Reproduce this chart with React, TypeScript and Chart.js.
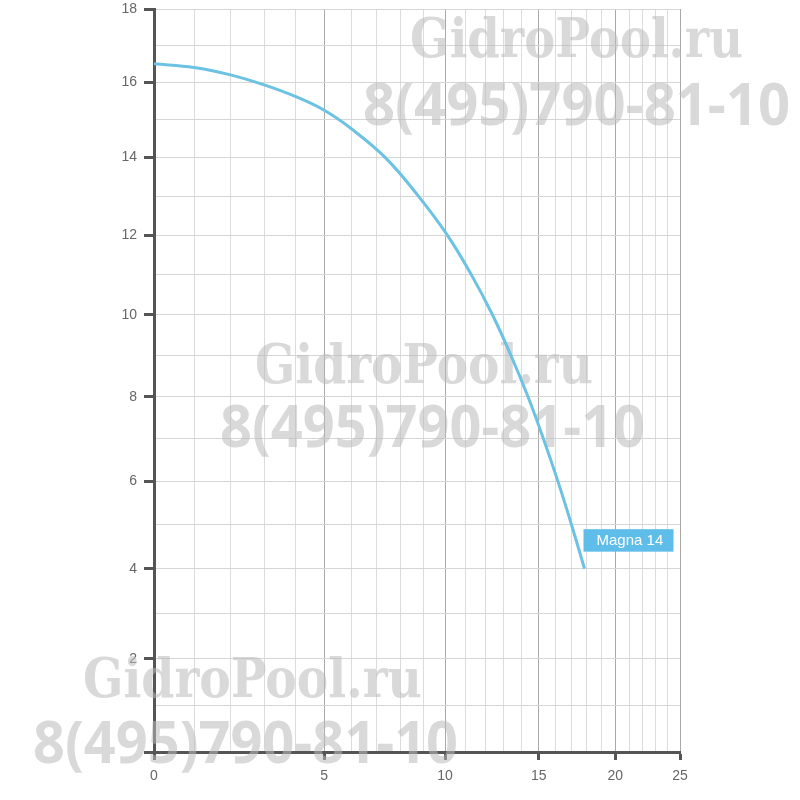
import { Chart, LinearScale, LineController, LineElement, PointElement } from "chart.js";
import { useEffect, useRef } from "react";

// pump curve (Q in m3/h, H in m)
const flowRates = [0, 1, 2, 3, 4, 5, 6, 7.35, 8.77, 10.11, 11.29, 12.39, 13.4, 14.37, 15.28, 16.17, 17.03, 17.88];
const heads = [16.5, 16.4, 16.2, 15.93, 15.62, 15.25, 14.76, 14, 13, 12, 11, 10, 9, 8, 7, 6, 5, 4];
const seriesName = "Magna 14";

const xLabelTicks = [0, 5, 10, 15, 20, 25];
const yLabelTicks = [2, 4, 6, 8, 10, 12, 14, 16, 18];

const watermarkSite = "GidroPool.ru";
const watermarkPhone = "8(495)790-81-10";

// the printed grid is not linear: both axes are squeezed like log(v + shift)
function makeWarpScale(id: string, shift: number) {
  class WarpScale extends LinearScale {
    static id = id;
    static defaults = LinearScale.defaults;
    getPixelForValue(value: number) {
      const lo = Math.log(this.min + shift);
      const hi = Math.log(this.max + shift);
      return this.getPixelForDecimal((Math.log(value + shift) - lo) / (hi - lo));
    }
    getValueForPixel(pixel: number) {
      const lo = Math.log(this.min + shift);
      const hi = Math.log(this.max + shift);
      return Math.exp(lo + this.getDecimalForPixel(pixel) * (hi - lo)) - shift;
    }
  }
  return WarpScale;
}

const WarpX = makeWarpScale("warpX", 10);
const WarpY = makeWarpScale("warpY", 58);

Chart.register(LineController, LineElement, PointElement, WarpX, WarpY);

const watermarkPlugin = {
  id: "watermark",
  beforeDatasetsDraw(chart: any) {
    const ctx = chart.ctx;
    const spots = [
      [410, 57, 333, 363, 125, 427],
      [255, 383, 338, 220, 447, 425],
      [83, 697, 339, 33, 763, 425],
    ];
    ctx.save();
    ctx.fillStyle = "rgba(185,185,185,0.55)";
    ctx.textAlign = "left";
    ctx.textBaseline = "alphabetic";
    for (const s of spots) {
      ctx.font = 'bold 55px "DejaVu Serif"';
      ctx.fillText(watermarkSite, s[0], s[1], s[2]);
      ctx.font = 'bold 59px "Open Sans"';
      ctx.fillText(watermarkPhone, s[3], s[4], s[5]);
    }
    ctx.restore();
  },
};

const seriesLabelPlugin = {
  id: "seriesLabel",
  afterDatasetsDraw(chart: any) {
    const pts = chart.getDatasetMeta(0).data;
    const last = pts[pts.length - 1];
    if (!last) return;
    const ctx = chart.ctx;
    ctx.save();
    ctx.fillStyle = "#5fbde9";
    ctx.fillRect(last.x - 1, last.y - 39.5, 90, 22.5);
    ctx.fillStyle = "#ffffff";
    ctx.font = '15px "Liberation Sans", Arial, sans-serif';
    ctx.textBaseline = "middle";
    ctx.textAlign = "left";
    ctx.fillText(seriesName, last.x + 12, last.y - 28);
    ctx.restore();
  },
};

const tickFont = { family: '"Liberation Sans", Arial, sans-serif', size: 14 };

export default function App() {
  const canvasRef = useRef<HTMLCanvasElement>(null);

  useEffect(() => {
    if (!canvasRef.current) return;
    const chart = new Chart(canvasRef.current, {
      type: "line",
      data: {
        datasets: [
          {
            label: seriesName,
            data: flowRates.map((q, i) => ({ x: q, y: heads[i] })),
            borderColor: "#6cc2e2",
            borderWidth: 3,
            pointRadius: 0,
            fill: false,
            tension: 0.4,
          },
        ],
      },
      options: {
        animation: false,
        responsive: true,
        maintainAspectRatio: false,
        layout: { padding: { left: 0, right: 120, top: 9, bottom: 0 } },
        plugins: { legend: { display: false }, tooltip: { enabled: false } },
        scales: {
          x: {
            type: "warpX",
            min: 0,
            max: 25,
            afterFit: (s: any) => {
              s.height = 48;
              s.paddingLeft = 0;
              s.paddingRight = 0;
            },
            ticks: {
              stepSize: 1,
              autoSkip: false,
              maxRotation: 0,
              maxTicksLimit: 100,
              padding: 8,
              color: "#666",
              font: tickFont,
              callback: (v: any) => (xLabelTicks.includes(v) ? String(v) : ""),
            },
            grid: {
              color: (c: any) => (xLabelTicks.includes(c.tick?.value) ? "#a9a9a9" : "#dcdcdc"),
              lineWidth: 1,
              tickLength: 8,
              tickWidth: 3,
              tickColor: (c: any) => (xLabelTicks.includes(c.tick?.value) ? "#555" : "rgba(0,0,0,0)"),
            },
            border: { display: true, color: "#555", width: 3 },
          },
          y: {
            type: "warpY",
            min: 0,
            max: 18,
            afterFit: (s: any) => {
              s.width = 154;
              s.paddingTop = 0;
              s.paddingBottom = 0;
            },
            ticks: {
              stepSize: 1,
              autoSkip: false,
              maxTicksLimit: 100,
              padding: 7,
              color: "#666",
              font: tickFont,
              callback: (v: any) => (yLabelTicks.includes(v) ? String(v) : ""),
            },
            grid: {
              color: "#d6d6d6",
              lineWidth: 1,
              tickLength: 10,
              tickWidth: 3,
              tickColor: (c: any) => (c.tick && c.tick.value % 2 === 0 ? "#555" : "rgba(0,0,0,0)"),
            },
            border: { display: true, color: "#555", width: 3 },
          },
        },
      },
      plugins: [watermarkPlugin, seriesLabelPlugin],
    } as any);
    return () => chart.destroy();
  }, []);

  return (
    <div style={{ position: "absolute", left: 0, top: 0, width: 800, height: 800, background: "#fff" }}>
      <canvas ref={canvasRef} />
    </div>
  );
}
